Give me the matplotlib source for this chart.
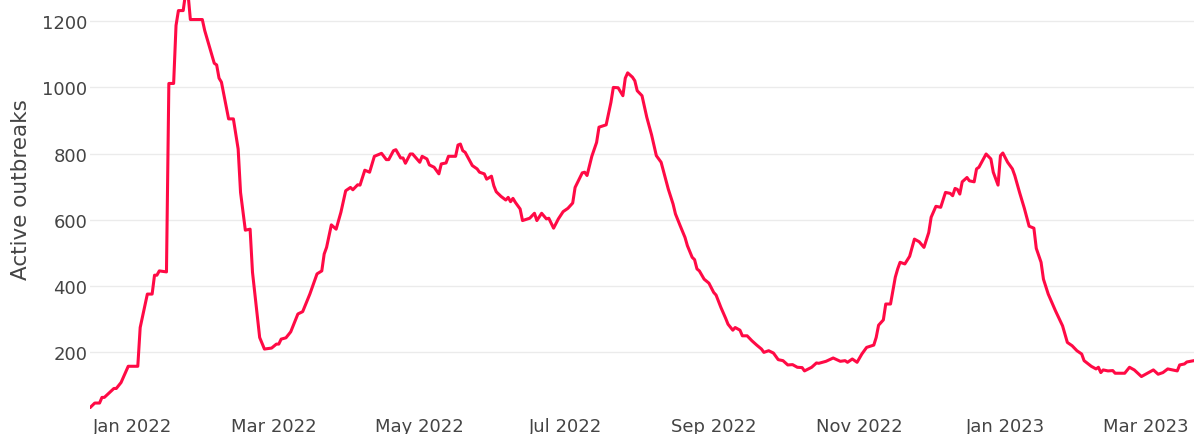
import matplotlib
matplotlib.use('Agg')
import matplotlib.pyplot as plt
import matplotlib.dates as mdates
import pandas as pd

# days after 2022-01-01
day_offset = [-18, -16, -14, -13, -12, -9, -8, -7, -5, -2, 2, 3, 6, 8, 9, 10, 11, 14, 15, 17,
              18, 19, 21, 22, 23, 24, 29, 30, 34, 35, 36, 37, 40, 42, 44, 45, 47, 49, 50, 53,
              55, 58, 60, 61, 62, 64, 66, 69, 71, 74, 77, 79, 80, 81, 83, 85, 87, 89, 91, 92,
              94, 95, 97, 99, 101, 104, 106, 107, 109, 110, 112, 113, 114, 116, 117, 119, 120, 121, 123, 124,
              126, 128, 129, 131, 132, 135, 136, 137, 138, 139, 142, 144, 145, 147, 148, 150, 151, 152, 154, 156,
              157, 158, 159, 160, 162, 163, 166, 168, 169, 171, 173, 174, 176, 178, 180, 182, 184, 185, 188, 189,
              190, 192, 194, 195, 198, 200, 201, 203, 205, 206, 207, 209, 210, 211, 213, 215, 217, 219, 221, 224,
              226, 227, 229, 231, 232, 234, 235, 236, 237, 239, 241, 243, 244, 246, 248, 249, 251, 252, 254, 255,
              257, 259, 261, 263, 264, 266, 268, 270, 272, 274, 276, 278, 280, 281, 284, 286, 287, 290, 293, 296,
              298, 299, 301, 303, 305, 307, 310, 311, 312, 314, 315, 317, 319, 320, 321, 323, 325, 327, 329, 331,
              333, 334, 336, 338, 340, 342, 343, 344, 345, 346, 347, 349, 350, 352, 353, 354, 357, 359, 360, 362,
              363, 364, 366, 368, 369, 371, 373, 375, 377, 378, 380, 381, 383, 386, 389, 391, 393, 395, 397, 398,
              401, 403, 404, 405, 406, 408, 410, 411, 415, 417, 419, 422, 425, 427, 429, 431, 433, 435, 437, 438,
              440, 441, 444]

outbreaks = [33, 47, 47, 64, 64, 84, 91, 91, 109, 158, 158, 275, 376, 376, 433, 433, 446, 443, 1012, 1012,
             1187, 1232, 1232, 1285, 1285, 1205, 1205, 1172, 1073, 1068, 1028, 1016, 905, 905, 814, 683, 569, 572, 442, 245,
             210, 213, 225, 225, 240, 244, 262, 316, 323, 376, 437, 446, 497, 517, 585, 572, 623, 688, 698, 691,
             706, 705, 750, 744, 792, 801, 782, 782, 809, 812, 787, 787, 771, 799, 799, 782, 774, 792, 784, 766,
             759, 739, 769, 772, 792, 792, 826, 829, 809, 804, 764, 754, 744, 739, 723, 732, 703, 685, 671, 660,
             668, 655, 665, 653, 633, 598, 605, 620, 598, 620, 603, 605, 575, 603, 625, 635, 651, 698, 742, 744,
             734, 792, 834, 880, 887, 955, 1000, 999, 975, 1028, 1044, 1031, 1020, 990, 975, 910, 857, 794, 774, 693,
             648, 618, 582, 547, 522, 487, 480, 452, 446, 421, 409, 381, 373, 336, 303, 285, 267, 275, 267, 250,
             250, 235, 222, 210, 200, 205, 198, 178, 175, 162, 163, 155, 154, 144, 155, 168, 167, 173, 183, 173,
             175, 170, 180, 170, 195, 215, 222, 245, 282, 298, 346, 346, 427, 452, 472, 467, 490, 542, 534, 517,
             562, 608, 641, 638, 683, 680, 673, 695, 692, 678, 715, 728, 718, 715, 754, 759, 799, 784, 744, 705,
             794, 802, 774, 754, 734, 683, 635, 581, 575, 514, 472, 421, 376, 326, 280, 230, 220, 205, 195, 175,
             158, 150, 155, 139, 147, 144, 145, 137, 137, 155, 147, 127, 139, 147, 134, 139, 150, 147, 144, 162,
             165, 171, 175]

y_ticks = [200, 400, 600, 800, 1000, 1200]

dates = pd.Timestamp('2022-01-01') + pd.to_timedelta(day_offset, unit='D')

plt.rcParams['font.family'] = ['DejaVu Sans']
fig = plt.figure(figsize=(11.94, 4.35), dpi=100)
ax = fig.add_axes([90 / 1194, 25 / 435, 1 - 90 / 1194, 410 / 435])

ax.plot(dates, outbreaks, color='#ff0a45', lw=2.2, solid_joinstyle='round', zorder=3)

ax.set_xlim(dates[0], dates[-1])
ax.set_ylim(29, 1267)
ax.set_yticks(y_ticks)
ax.xaxis.set_major_locator(mdates.MonthLocator(bymonth=[1, 3, 5, 7, 9, 11]))
ax.xaxis.set_major_formatter(mdates.DateFormatter('%b %Y'))

ax.grid(axis='y', color='#ebebeb', lw=1.0)
ax.grid(axis='x', visible=False)
for s in ax.spines.values():
    s.set_visible(False)
ax.tick_params(axis='both', length=0, labelsize=13, labelcolor='#444444')
ax.tick_params(axis='y', pad=2)
ax.tick_params(axis='x', pad=6)

# 轴标题位置
ax.set_ylabel('Active outbreaks', fontsize=15.5, color='#444444')
ax.yaxis.set_label_coords(-59 / 1104, 220 / 410)

fig.savefig('out.png', dpi=100)
